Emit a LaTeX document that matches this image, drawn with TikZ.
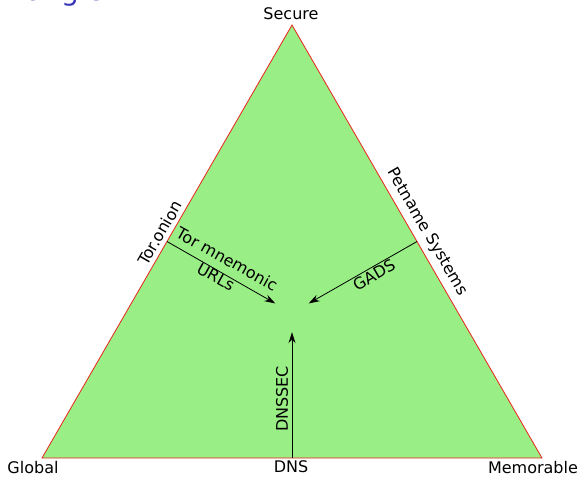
\documentclass[tikz,border=0pt]{standalone}
\usepackage{fontspec}
\setmainfont{DejaVu Sans}
\usetikzlibrary{arrows.meta,calc}
\definecolor{fillgreen}{RGB}{153,238,133}
\definecolor{edgered}{RGB}{235,35,25}
\definecolor{titleblue}{RGB}{55,55,185}

\begin{document}
\begin{tikzpicture}[x=1pt,y=-1pt,
  lbl/.style={font=\fontsize{16}{19}\selectfont, inner sep=0pt},
  pointer/.style={draw=black, line width=0.8pt, -{Stealth[length=11pt,width=7pt]}}]
\useasboundingbox (0,0) rectangle (582,477);

% slide title, mostly above the page edge
\node[anchor=base east, font=\fontsize{28}{32}\selectfont, text=titleblue, inner sep=0pt]
  (title) at (104,0.5) {Zooko's triangle};

% corners of the triangle
\coordinate (S) at (292,25);
\coordinate (G) at (42,458);
\coordinate (M) at (542,458);
\fill[fillgreen] (S) -- (G) -- (M) -- cycle;
\draw[edgered, line width=0.8pt] (S) -- (G) -- (M) -- cycle;

% edge midpoints and the centre the arrows point to
\coordinate (sg) at ($(S)!0.5!(G)$);
\coordinate (sm) at ($(S)!0.5!(M)$);
\coordinate (gm) at ($(G)!0.5!(M)$);
\node[circle, minimum size=38pt, inner sep=0pt] (C) at (292,313) {};

% corner labels
\node[lbl] (secure) at (291,14) {Secure};
\node[lbl] (global) at (33,468) {Global};
\node[lbl] (dns) at (291,467) {DNS};
\node[lbl] (memorable) at (533,468) {Memorable};

% edge labels
\node[lbl, rotate=60] (tor) at (160,233) {Tor.onion};
\node[lbl, rotate=-60] (petname) at (427,232) {Petname Systems};

% arrows towards the centre
\draw[pointer] (sg) -- (C);
\draw[pointer] (sm) -- (C);
\draw[pointer] (gm) -- (C);

% arrow labels
\node[lbl, rotate=-29] (tormn) at (227,259) {Tor mnemonic};
\node[lbl, rotate=-29] (urls) at (216,277) {URLs};
\node[lbl, rotate=30] (gads) at (374,275) {GADS};
\node[lbl, rotate=90] (dnssec) at (282,399) {DNSSEC};
\end{tikzpicture}
\end{document}
